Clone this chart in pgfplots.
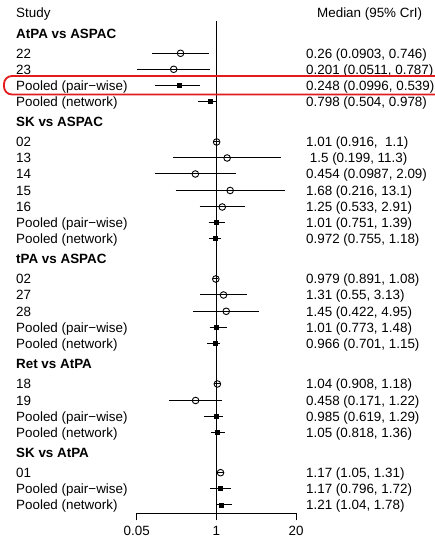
\documentclass[border=0pt]{standalone}
\usepackage{fontspec}
\setmainfont{Liberation Sans}
\usepackage{pgfplots}
\pgfplotsset{compat=1.18}
\definecolor{hlred}{RGB}{228,26,28}
\newcommand{\fs}{\fontsize{13.4}{16}\selectfont}
\newcommand{\lrow}[3]{%
  \node[anchor=base west, inner sep=0pt, font=\fs] at (16,{532.2-#1}) {#2};%
  \node[anchor=base west, inner sep=0pt, font=\fs] at (306,{532.2-#1}) {#3};}
\newcommand{\hrow}[2]{%
  \node[anchor=base west, inner sep=0pt, font=\fs\bfseries] at (16,{532.2-#1}) {#2};}
\begin{document}
\begin{tikzpicture}[x=1pt,y=1pt]
\useasboundingbox (0,0) rectangle (435,537);
\begin{axis}[
  at={(136.7pt,23.7pt)}, anchor=south west,
  scale only axis, width=159.3pt, height=513.3pt,
  xmode=log, xmin=0.05, xmax=20, ymin=-513.3, ymax=0,
  axis x line=bottom, axis y line=none,
  x axis line style={-},
  axis line style={line width=1pt},
  xtick={0.05,1,20}, xticklabels={0.05,1,20},
  xminorticks=false,
  tick align=outside, major tick length=7pt,
  every tick/.style={black, line width=1pt},
  xticklabel style={font=\fs, anchor=base, inner sep=0pt, yshift=-15.2pt},
  /pgf/number format/assume math mode=true,
  clip=false,
]
% reference line
\addplot[black, line width=1pt] coordinates {(1,-21) (1,-513.3)};
% credible intervals
\addplot[black, line width=1pt] coordinates {(0.0903,-53.3) (0.746,-53.3)};
\addplot[black, line width=1pt] coordinates {(0.0511,-69.3) (0.787,-69.3)};
\addplot[black, line width=1pt] coordinates {(0.0996,-85.7) (0.539,-85.7)};
\addplot[black, line width=1pt] coordinates {(0.504,-101.3) (0.978,-101.3)};
\addplot[black, line width=1pt] coordinates {(0.916,-142) (1.1,-142)};
\addplot[black, line width=1pt] coordinates {(0.199,-158) (11.3,-158)};
\addplot[black, line width=1pt] coordinates {(0.0987,-174) (2.09,-174)};
\addplot[black, line width=1pt] coordinates {(0.216,-190.5) (13.1,-190.5)};
\addplot[black, line width=1pt] coordinates {(0.533,-207) (2.91,-207)};
\addplot[black, line width=1pt] coordinates {(0.751,-222.7) (1.39,-222.7)};
\addplot[black, line width=1pt] coordinates {(0.755,-238.7) (1.18,-238.7)};
\addplot[black, line width=1pt] coordinates {(0.891,-279) (1.08,-279)};
\addplot[black, line width=1pt] coordinates {(0.55,-295) (3.13,-295)};
\addplot[black, line width=1pt] coordinates {(0.422,-311.3) (4.95,-311.3)};
\addplot[black, line width=1pt] coordinates {(0.773,-327.7) (1.48,-327.7)};
\addplot[black, line width=1pt] coordinates {(0.701,-343.7) (1.15,-343.7)};
\addplot[black, line width=1pt] coordinates {(0.908,-384) (1.18,-384)};
\addplot[black, line width=1pt] coordinates {(0.171,-400.5) (1.22,-400.5)};
\addplot[black, line width=1pt] coordinates {(0.619,-416.7) (1.29,-416.7)};
\addplot[black, line width=1pt] coordinates {(0.818,-432.5) (1.36,-432.5)};
\addplot[black, line width=1pt] coordinates {(1.05,-472.7) (1.31,-472.7)};
\addplot[black, line width=1pt] coordinates {(0.796,-488.7) (1.72,-488.7)};
\addplot[black, line width=1pt] coordinates {(1.04,-505) (1.78,-505)};
% study estimates
\addplot[only marks, black, mark=o, mark size=3.3pt, mark options={line width=0.9pt, fill=none}] coordinates {
 (0.26,-53.3) (0.201,-69.3)
 (1.01,-142) (1.5,-158) (0.454,-174) (1.68,-190.5) (1.25,-207)
 (0.979,-279) (1.31,-295) (1.45,-311.3)
 (1.04,-384) (0.458,-400.5)
 (1.17,-472.7)};
% pooled estimates
\addplot[only marks, black, mark=square*, mark size=2pt] coordinates {
 (0.248,-85.7) (0.798,-101.3)
 (1.01,-222.7) (0.972,-238.7)
 (1.01,-327.7) (0.966,-343.7)
 (0.985,-416.7) (1.05,-432.5)
 (1.17,-488.7) (1.21,-505)};
\end{axis}
% texts
\node[anchor=base west, inner sep=0pt, font=\fs] at (16,{532.2-13}) {Study};
\node[anchor=base west, inner sep=0pt, font=\fs] at (317,{532.2-13}) {Median (95\% CrI)};
\hrow{33.3}{AtPA vs ASPAC}
\lrow{53.3}{22}{0.26 (0.0903, 0.746)}
\lrow{69.3}{23}{0.201 (0.0511, 0.787)}
\lrow{85.7}{Pooled (pair−wise)}{0.248 (0.0996, 0.539)}
\lrow{101.3}{Pooled (network)}{0.798 (0.504, 0.978)}
\hrow{121.7}{SK vs ASPAC}
\lrow{142}{02}{1.01 (0.916,\ \ 1.1)}
\lrow{158}{13}{\ 1.5 (0.199, 11.3)}
\lrow{174}{14}{0.454 (0.0987, 2.09)}
\lrow{190.5}{15}{1.68 (0.216, 13.1)}
\lrow{207}{16}{1.25 (0.533, 2.91)}
\lrow{222.7}{Pooled (pair−wise)}{1.01 (0.751, 1.39)}
\lrow{238.7}{Pooled (network)}{0.972 (0.755, 1.18)}
\hrow{259}{tPA vs ASPAC}
\lrow{279}{02}{0.979 (0.891, 1.08)}
\lrow{295}{27}{1.31 (0.55, 3.13)}
\lrow{311.3}{28}{1.45 (0.422, 4.95)}
\lrow{327.7}{Pooled (pair−wise)}{1.01 (0.773, 1.48)}
\lrow{343.7}{Pooled (network)}{0.966 (0.701, 1.15)}
\hrow{364}{Ret vs AtPA}
\lrow{384}{18}{1.04 (0.908, 1.18)}
\lrow{400.5}{19}{0.458 (0.171, 1.22)}
\lrow{416.7}{Pooled (pair−wise)}{0.985 (0.619, 1.29)}
\lrow{432.5}{Pooled (network)}{1.05 (0.818, 1.36)}
\hrow{453}{SK vs AtPA}
\lrow{472.7}{01}{1.17 (1.05, 1.31)}
\lrow{488.7}{Pooled (pair−wise)}{1.17 (0.796, 1.72)}
\lrow{505}{Pooled (network)}{1.21 (1.04, 1.78)}
% highlight
\draw[hlred, line width=1.8pt, rounded corners=8pt] (4,{537-94.5}) rectangle (460,{537-76});
\end{tikzpicture}
\end{document}
